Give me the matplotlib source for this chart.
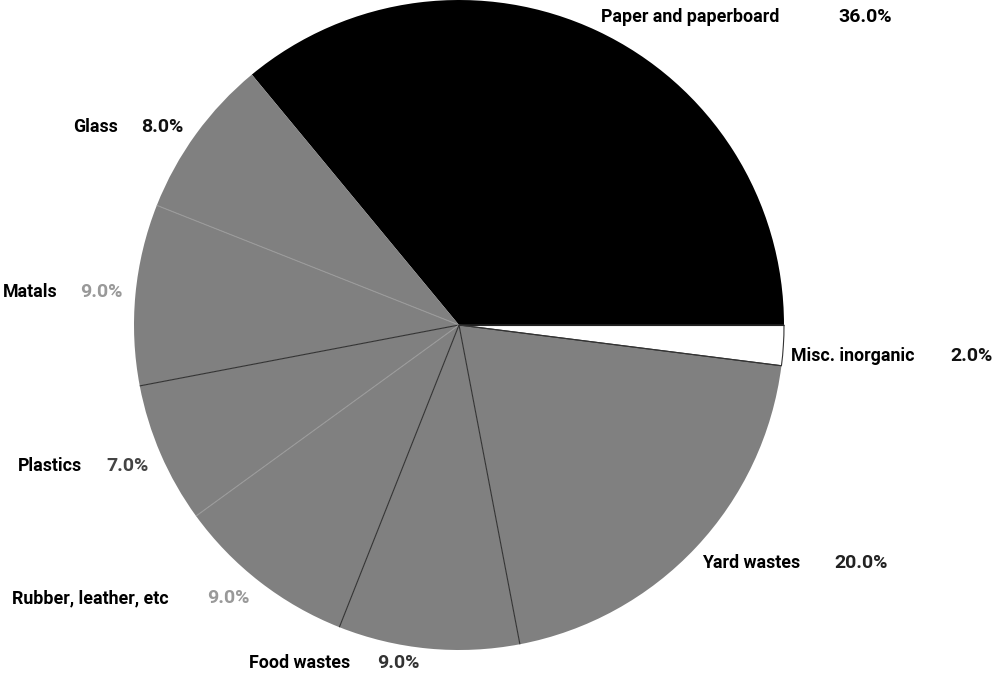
import numpy as np
import matplotlib
matplotlib.use("Agg")
import matplotlib.pyplot as plt

categories = ["Paper and paperboard", "Glass", "Matals", "Plastics",
              "Rubber, leather, etc", "Food wastes", "Yard wastes", "Misc. inorganic"]
shares = [36.0, 8.0, 9.0, 7.0, 9.0, 9.0, 20.0, 2.0]
slice_colors = ["#000000", "#808080", "#808080", "#808080",
                "#808080", "#808080", "#808080", "#ffffff"]
pct_colors = ["#000000", "#111111", "#999999", "#444444",
              "#999999", "#333333", "#222222", "#111111"]
# colour of the radial line at the start of each wedge
boundary_colors = ["#222222", None, "#9a9a9a", "#333333",
                   "#9a9a9a", "#333333", "#333333", "#333333"]

# label anchor points (name x, pct x, centre y) in figure pixels, y from top
label_pos = [(601, 838, 17), (73, 141, 127), (3, 80, 292), (18, 106, 466),
             (12, 207, 598), (249, 377, 663), (702, 834, 563), (791, 950, 356)]

W, H = 993, 676
fig = plt.figure(figsize=(W / 100, H / 100), dpi=100)
ax = fig.add_axes([0, 0, 1, 1])

wedges, _ = ax.pie(shares, colors=slice_colors, startangle=0, counterclock=True,
                   center=(459, H - 325), radius=325,
                   wedgeprops=dict(linewidth=0))
wedges[-1].set_edgecolor("#333333")
wedges[-1].set_linewidth(0.8)

for w, bc in zip(wedges, boundary_colors):
    if bc is None:
        continue
    cx, cy = w.center
    t = np.deg2rad(w.theta1)
    ax.plot([cx, cx + w.r * np.cos(t)], [cy, cy + w.r * np.sin(t)],
            color=bc, linewidth=0.8, solid_capstyle="butt")

fam = ["Roboto", "Liberation Sans", "DejaVu Sans"]
for name, val, pc, (nx, px, y) in zip(categories, shares, pct_colors, label_pos):
    ax.text(nx, H - y, name, ha="left", va="center", fontsize=12.8,
            family=fam, weight="bold", color="#000000")
    ax.text(px, H - y, f"{val:.1f}%", ha="left", va="center", fontsize=14,
            family=fam, weight="bold", color=pc)

ax.set_xlim(0, W)
ax.set_ylim(0, H)
ax.set_aspect("equal")
ax.axis("off")
fig.savefig("out.png", dpi=100)
